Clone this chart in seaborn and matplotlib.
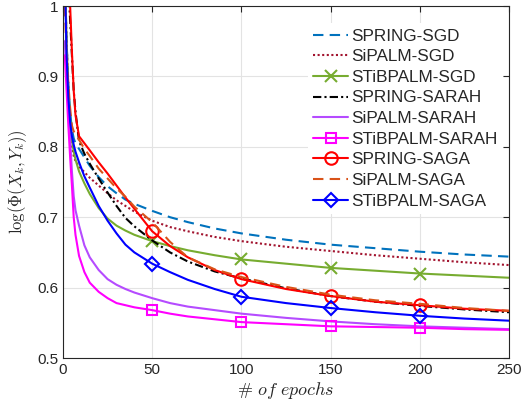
import matplotlib
matplotlib.use("Agg")
import matplotlib.pyplot as plt
import seaborn as sns
import pandas as pd

epochs = [1, 2, 3, 4, 5, 6, 7, 9, 12, 15, 20, 25, 30, 35, 40, 50, 60, 70, 85, 100,
          125, 150, 175, 200, 225, 250]

spring_sgd = [1.05, 0.95, 0.89, 0.85, 0.825, 0.812, 0.805, 0.797, 0.785, 0.773, 0.757, 0.744,
              0.734, 0.725, 0.719, 0.709, 0.700, 0.693, 0.684, 0.677, 0.668, 0.661, 0.656,
              0.651, 0.647, 0.644]
sipalm_sgd = [1.05, 0.95, 0.88, 0.83, 0.80, 0.787, 0.780, 0.772, 0.764, 0.756, 0.745, 0.734,
              0.724, 0.716, 0.708, 0.695, 0.686, 0.680, 0.672, 0.666, 0.658, 0.652, 0.646,
              0.641, 0.636, 0.632]
stibpalm_sgd = [1.05, 0.95, 0.88, 0.84, 0.81, 0.793, 0.782, 0.765, 0.748, 0.733, 0.713, 0.698,
                0.688, 0.681, 0.675, 0.666, 0.659, 0.653, 0.646, 0.640, 0.634, 0.628, 0.624,
                0.620, 0.617, 0.614]
spring_sarah = [1.2, 1.1, 1.03, 0.98, 0.93, 0.88, 0.85, 0.808, 0.790, 0.776, 0.755, 0.735,
                0.716, 0.699, 0.687, 0.667, 0.650, 0.637, 0.623, 0.613, 0.599, 0.588, 0.580,
                0.574, 0.569, 0.565]
sipalm_sarah = [0.95, 0.90, 0.86, 0.81, 0.765, 0.73, 0.71, 0.688, 0.66, 0.643, 0.625, 0.612,
                0.604, 0.598, 0.593, 0.585, 0.578, 0.573, 0.568, 0.563, 0.557, 0.552, 0.548,
                0.545, 0.543, 0.541]
stibpalm_sarah = [0.93, 0.88, 0.83, 0.785, 0.745, 0.70, 0.675, 0.645, 0.622, 0.607, 0.594, 0.585,
                  0.578, 0.575, 0.572, 0.568, 0.563, 0.559, 0.555, 0.551, 0.548, 0.545, 0.544,
                  0.543, 0.541, 0.540]
spring_saga = [1.3, 1.2, 1.1, 1.0, 0.935, 0.88, 0.845, 0.815, 0.805, 0.795, 0.778, 0.762,
               0.745, 0.728, 0.712, 0.680, 0.659, 0.643, 0.625, 0.612, 0.598, 0.588, 0.580,
               0.575, 0.570, 0.567]
sipalm_saga = [1.0, 0.93, 0.89, 0.855, 0.83, 0.822, 0.818, 0.81, 0.797, 0.787, 0.769, 0.755,
               0.741, 0.729, 0.715, 0.693, 0.665, 0.643, 0.626, 0.615, 0.601, 0.590, 0.582,
               0.577, 0.571, 0.567]
stibpalm_saga = [1.05, 0.93, 0.87, 0.835, 0.815, 0.803, 0.793, 0.778, 0.758, 0.742, 0.716, 0.695,
                 0.677, 0.661, 0.650, 0.634, 0.622, 0.611, 0.598, 0.587, 0.578, 0.571, 0.565,
                 0.560, 0.556, 0.553]

names = ["SPRING-SGD", "SiPALM-SGD", "STiBPALM-SGD", "SPRING-SARAH", "SiPALM-SARAH",
         "STiBPALM-SARAH", "SPRING-SAGA", "SiPALM-SAGA", "STiBPALM-SAGA"]
series = [spring_sgd, sipalm_sgd, stibpalm_sgd, spring_sarah, sipalm_sarah,
          stibpalm_sarah, spring_saga, sipalm_saga, stibpalm_saga]
marker_epochs = [50, 100, 150, 200]

styles = {
    "SPRING-SGD": dict(color="#0072BD", ls=(0, (5, 3)), marker=None),
    "SiPALM-SGD": dict(color="#A2142F", ls=(0, (1, 1.2)), marker=None),
    "STiBPALM-SGD": dict(color="#77AC30", ls="-", marker="x"),
    "SPRING-SARAH": dict(color="#000000", ls=(0, (4, 1.5, 1, 1.5)), marker=None),
    "SiPALM-SARAH": dict(color="#B54BFF", ls="-", marker=None),
    "STiBPALM-SARAH": dict(color="#FF00FF", ls="-", marker="s"),
    "SPRING-SAGA": dict(color="#FF0000", ls="-", marker="o"),
    "SiPALM-SAGA": dict(color="#D95319", ls=(0, (5, 3)), marker=None),
    "STiBPALM-SAGA": dict(color="#0000FF", ls="-", marker="D"),
}
msizes = {"x": 8, "s": 7, "o": 9, "D": 7}

sns.set_style("white")
plt.rcParams["font.family"] = ["Liberation Sans", "DejaVu Sans"]
plt.rcParams["mathtext.fontset"] = "cm"

fig = plt.figure(figsize=(5.22, 4.08), dpi=100)
ax = fig.add_axes([63 / 522, 1 - 358 / 408, 446 / 522, 352 / 408])

mark_idx = [epochs.index(e) for e in marker_epochs]
for name, vals in zip(names, series):
    df = pd.DataFrame({"epoch": epochs, "value": vals})
    st = styles[name]
    kw = dict(color=st["color"], linestyle=st["ls"], linewidth=1.5, label=name)
    if st["marker"]:
        kw.update(marker=st["marker"], markevery=mark_idx, markersize=msizes[st["marker"]],
                  markerfacecolor="none", markeredgecolor=st["color"], markeredgewidth=1.5)
    sns.lineplot(data=df, x="epoch", y="value", ax=ax, errorbar=None, sort=False, **kw)

ax.set_xlim(0, 250)
ax.set_ylim(0.5, 1.0)
ax.set_xticks([0, 50, 100, 150, 200, 250])
ax.set_yticks([0.5, 0.6, 0.7, 0.8, 0.9, 1.0])
ax.set_yticklabels(["0.5", "0.6", "0.7", "0.8", "0.9", "1"])
ax.grid(True, color="#E3E3E3", linewidth=0.8)
ax.set_axisbelow(True)
ax.tick_params(direction="in", top=True, right=True, length=4, width=0.8,
               labelsize=11, colors="#262626")
for sp in ax.spines.values():
    sp.set_color("#262626")
    sp.set_linewidth(0.8)

ax.set_xlabel(r"$\#\ of\ epochs$", fontsize=13, color="#262626", labelpad=2)
ax.set_ylabel(r"$\log(\Phi(X_k,Y_k))$", fontsize=12, color="#262626", labelpad=6)

leg = ax.legend(loc="upper right", bbox_to_anchor=(0.997, 0.965), frameon=True,
                fontsize=12.3, handlelength=2.0, handletextpad=0.2, labelspacing=0.33,
                borderpad=0.3, borderaxespad=0.3)
leg.get_frame().set_edgecolor("none")
leg.get_frame().set_facecolor("white")
leg.get_frame().set_alpha(1.0)
leg.get_frame().set_boxstyle("square", pad=0)

fig.savefig("out.png", dpi=100)
